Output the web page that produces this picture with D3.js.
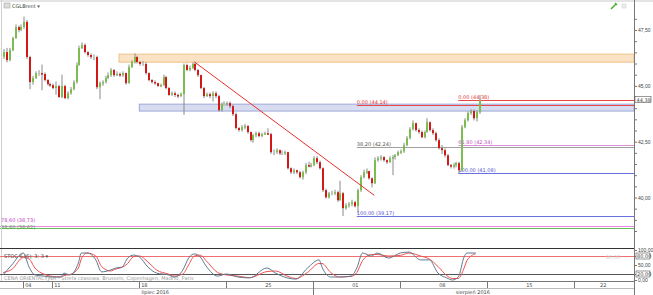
<!DOCTYPE html>
<html>
<head>
<meta charset="utf-8">
<title>CGLBrent</title>
<script src="https://cdn.jsdelivr.net/npm/d3@7/dist/d3.min.js"></script>
<style>
  body { margin: 0; background: #fff; }
  svg { display: block; font-family: "DejaVu Sans", sans-serif; }
  .lbl { font-size: 5px; fill: #444; }
</style>
</head>
<body>
<script>
// ---- data (4h candles, CGLBrent, lipiec - sierpień 2016) ----
var closes = [46.51,46.15,46.60,47.14,47.63,47.50,47.63,47.86,46.29,45.17,
  45.35,45.57,45.57,45.53,45.26,45.08,45.03,44.90,44.99,44.50,
  44.99,44.45,44.67,44.85,45.17,45.93,46.69,46.83,46.51,46.38,
  46.29,46.29,44.94,45.12,45.17,45.35,45.48,45.71,45.48,45.53,
  45.48,45.57,45.12,45.84,46.07,46.29,46.07,45.98,45.98,45.57,
  45.26,45.17,45.12,44.99,45.03,45.39,44.90,44.59,44.67,44.59,
  44.54,44.63,45.93,45.71,45.80,45.98,45.71,45.48,44.90,44.54,
  44.63,44.54,44.67,44.54,43.91,44.18,44.18,44.23,44.09,43.73,
  43.11,43.02,43.15,43.20,42.93,42.57,42.79,42.88,42.75,42.84,
  42.88,42.84,42.03,42.03,42.12,41.98,41.98,42.03,41.31,41.13,
  41.22,41.13,40.91,41.13,41.45,41.40,41.45,41.76,41.58,41.31,
  40.33,40.01,40.19,40.19,40.24,39.88,40.19,39.52,39.65,39.70,
  39.79,39.61,40.33,40.91,41.13,41.18,40.86,40.64,41.67,41.76,
  41.81,41.67,41.58,41.76,41.81,41.89,42.03,42.07,42.34,42.66,
  43.06,43.33,43.02,42.93,42.70,42.93,43.37,43.02,42.88,42.57,
  42.21,42.12,41.89,41.45,41.40,41.45,41.54,41.22,43.15,43.46,
  43.78,43.87,43.55,43.82,44.36];
var highs = [46.65,46.70,46.70,47.20,47.75,47.70,47.75,48.10,47.95,46.35,
  45.45,45.65,45.70,45.95,45.60,45.30,45.15,45.10,45.20,45.05,
  45.50,45.05,44.75,44.95,45.25,46.05,46.80,46.95,46.90,46.55,
  46.45,46.40,46.35,45.20,45.25,45.45,45.60,45.80,45.75,45.65,
  45.60,45.65,45.60,45.95,46.15,46.45,46.35,46.10,46.10,46.05,
  45.60,45.30,45.25,45.15,45.10,45.50,45.45,44.95,44.75,44.75,
  44.65,44.70,46.00,46.00,45.90,46.05,46.05,45.75,45.50,44.95,
  44.70,44.70,44.75,44.75,44.60,44.25,44.30,44.30,44.30,44.15,
  43.80,43.15,43.25,43.30,43.25,42.95,42.85,42.95,42.95,42.90,
  42.95,43.10,42.90,42.15,42.20,42.15,42.10,42.10,42.05,41.35,
  41.30,41.25,41.20,41.20,41.55,41.60,41.55,41.85,41.85,41.65,
  41.35,40.40,40.25,40.30,40.35,40.30,40.75,40.25,39.75,39.80,
  39.90,39.85,40.40,41.00,41.25,41.30,41.20,40.90,41.80,41.85,
  41.90,41.85,41.70,41.85,41.90,41.95,42.10,42.15,42.45,42.75,
  43.15,43.45,43.35,43.10,43.00,43.00,43.55,43.40,43.10,42.95,
  42.65,42.35,42.20,41.95,41.50,41.55,41.60,41.60,43.25,43.55,
  43.85,43.95,43.95,43.90,44.59];
var lows = [46.20,46.05,46.10,46.55,47.10,47.40,47.45,47.55,46.20,44.85,
  45.05,45.30,45.45,44.80,45.20,45.00,44.95,44.85,44.60,44.45,
  44.45,44.40,44.40,44.60,44.80,45.10,45.90,46.65,46.45,46.30,
  46.20,46.15,44.85,44.40,45.00,45.10,45.30,45.40,45.40,45.45,
  45.40,45.40,45.05,45.10,45.80,46.00,46.00,45.90,45.90,45.50,
  45.20,45.10,45.05,44.95,44.95,45.00,44.85,44.55,44.55,44.50,
  44.45,44.50,43.70,45.65,45.65,45.75,45.65,45.40,44.85,44.45,
  44.50,44.45,44.30,44.45,43.85,43.85,44.10,44.10,44.00,43.65,
  43.05,42.95,42.95,43.05,42.85,42.50,42.45,42.70,42.70,42.70,
  42.80,42.80,41.95,41.90,41.95,41.90,41.90,41.90,41.25,41.05,
  41.05,41.05,40.85,40.80,41.05,41.35,41.35,41.40,41.50,41.25,
  40.25,39.95,39.95,40.10,40.10,39.80,39.85,39.17,39.45,39.55,
  39.60,39.55,39.30,40.25,40.85,41.05,40.80,40.45,40.60,41.60,
  41.65,41.60,41.50,41.55,41.00,41.70,41.85,41.95,42.00,42.30,
  42.60,43.00,42.95,42.85,42.65,42.65,42.90,42.95,42.80,42.50,
  42.15,41.95,41.80,41.40,41.30,41.30,41.35,41.08,41.15,43.10,
  43.40,43.70,43.45,43.40,43.75];
var firstOpen = 46.30;

// STOC 6 (6); 3; 3
var stochIdx = [0,3,7,9,11,14,17,20,21,23,26,27,29,32,34,37,39,41,43,45,
  47,50,53,57,59,62,64,66,68,70,74,77,81,85,91,94,98,101,105,109,
  110,113,116,120,122,124,127,129,133,137,140,144,147,150,153,155,157,159,160,163];
var stochK = [17,50,90,43,17,13,10,10,23,17,57,90,90,67,27,33,40,43,73,83,
  77,43,23,17,10,33,73,87,77,47,13,20,10,7,40,23,7,3,40,67,
  43,10,10,13,40,90,80,90,73,90,93,67,67,23,7,0,10,77,90,90];
var stochD = [25,35,75,70,40,20,12,10,15,18,40,70,90,80,45,30,37,42,55,78,
  80,60,33,20,13,20,50,80,83,65,25,17,13,8,28,30,13,5,25,55,
  55,25,10,12,25,65,85,85,80,82,90,80,70,45,15,5,5,40,65,88];

var priceTicks = [40, 42.5, 45, 47.5];
var stochTicks = [100, 80, 50, 20, 0];
// week labels: first three sit right of their tick, later ones centred in the week
var weekLabels = ["04", "11", "18", "25", "01", "08", "15", "22"];
var weekLabelIdx = [7.3, 17.3, 47.3, 91.5, 121.5, 151.5, 181.5, 207];
var weekLabelLeft = [true, true, true, false, false, false, false, false];
var weekTickIdx = [7, 17, 47, 77, 107, 137, 167, 197];
var monthLabels = ["lipiec 2016", "sierpień 2016"];
var monthLabelIdx = [52.5, 162];
var monthTickIdx = [107];

// zones [from index, low, high]
var orangeZone = [40, 46.06, 46.42];
var blueZone = [47, 43.87, 44.18];
var trendLine = [[66, 46.07], [128, 40.10]];
// fib retracements: start index, levels, prices
var fib1Start = 122, fib1Levels = ["0,00", "38,20", "100,00"], fib1Prices = [44.14, 42.24, 39.17];
var fib2Start = 157, fib2Levels = ["0,00", "61,80", "100,00"], fib2Prices = [44.38, 42.34, 41.08];
var extLevels = ["78,60", "88,60"], extPrices = [38.73, 38.62];
var lastPrice = 44.38;

// ---- layout ----
var width = 653, height = 295;
var plotR = 634, mainBot = 248, stochBot = 281;

var x = d3.scaleLinear().domain([0, 164]).range([3, 478.6]);
var y = d3.scaleLinear().domain([40, 47.5]).range([197.5, 30]);
var ys = d3.scaleLinear().domain([0, 100]).range([280, 250]);
var fmt = function(v){ return d3.format(".2f")(v).replace(".", ","); };

var svg = d3.select("body").append("svg")
    .attr("width", width).attr("height", height);

svg.append("rect").attr("width", width).attr("height", height).attr("fill", "#fff");

svg.append("clipPath").attr("id", "main").append("rect")
    .attr("x", 0).attr("y", 0).attr("width", plotR).attr("height", mainBot);
var g = svg.append("g").attr("clip-path", "url(#main)");

// zones
g.append("rect")
    .attr("x", x(orangeZone[0])).attr("y", y(orangeZone[2]))
    .attr("width", plotR - x(orangeZone[0])).attr("height", y(orangeZone[1]) - y(orangeZone[2]))
    .attr("fill", "#fae3c4").attr("stroke", "#f0c088").attr("stroke-width", 1);
g.append("rect")
    .attr("x", x(blueZone[0])).attr("y", y(blueZone[2]))
    .attr("width", plotR - x(blueZone[0])).attr("height", y(blueZone[1]) - y(blueZone[2]))
    .attr("fill", "#d7dcf0").attr("stroke", "#9ea8d8").attr("stroke-width", 1);

// extension lines (full width)
var extColors = ["#e58ae0", "#6cc05a"];
extPrices.forEach(function(p, i){
    g.append("line").attr("x1", 0).attr("x2", plotR)
        .attr("y1", Math.round(y(p)) + 0.5).attr("y2", Math.round(y(p)) + 0.5)
        .attr("stroke", extColors[i]).attr("stroke-width", 1);
});
g.append("text").attr("class", "lbl").attr("x", 1).attr("y", y(extPrices[0]) - 4)
    .style("fill", "#c040c0")
    .text(extLevels[0] + " (" + fmt(extPrices[0]) + ")");
g.append("text").attr("class", "lbl").attr("x", 1).attr("y", y(extPrices[1]) + 0.5)
    .style("fill", "#40a040")
    .text(extLevels[1] + " (" + fmt(extPrices[1]) + ")");

// fib lines
var fibColors = ["#e84848", "#a0a0a0", "#6a70e0"];
function drawFib(start, levels, prices, colors, lblColors){
    prices.forEach(function(p, i){
        var yy = Math.round(y(p)) + 0.5;
        g.append("line").attr("x1", x(start)).attr("x2", plotR)
            .attr("y1", yy).attr("y2", yy)
            .attr("stroke", colors[i]).attr("stroke-width", 1);
        g.append("text").attr("class", "lbl").attr("x", x(start)).attr("y", yy - 2)
            .style("fill", lblColors[i])
            .text(levels[i] + " (" + fmt(p) + ")");
    });
}
drawFib(fib1Start, fib1Levels, fib1Prices, fibColors, ["#e03030", "#555", "#5050d0"]);
drawFib(fib2Start, fib2Levels, fib2Prices, ["#e84848", "#d890d8", "#6a70e0"], ["#e03030", "#c050c0", "#5050d0"]);

// candles
var candles = closes.map(function(c, i){
    return { i: i, o: i ? closes[i - 1] : firstOpen, c: c, h: highs[i], l: lows[i] };
});
var cg = g.selectAll("g.candle").data(candles).enter().append("g").attr("class", "candle");
cg.append("line")
    .attr("x1", function(d){ return Math.round(x(d.i)) + 1; })
    .attr("x2", function(d){ return Math.round(x(d.i)) + 1; })
    .attr("y1", function(d){ return y(d.h); })
    .attr("y2", function(d){ return y(d.l); })
    .attr("stroke", "#8a8a8a").attr("stroke-width", 1);
cg.append("rect")
    .attr("x", function(d){ return Math.round(x(d.i)); })
    .attr("y", function(d){ return y(Math.max(d.o, d.c)); })
    .attr("width", 2)
    .attr("height", function(d){ return Math.max(1.5, Math.abs(y(d.o) - y(d.c))); })
    .attr("fill", function(d){
        if (Math.abs(d.c - d.o) < 0.02) return "#c4c4c4";
        return d.c > d.o ? "#7cbd50" : "#d41818";
    });

// trend line
g.append("line")
    .attr("x1", x(trendLine[0][0])).attr("y1", y(trendLine[0][1]))
    .attr("x2", x(trendLine[1][0])).attr("y2", y(trendLine[1][1]))
    .attr("stroke", "#e8302a").attr("stroke-width", 1);

// header
svg.append("rect").attr("x", 0).attr("y", 0).attr("width", width).attr("height", 2).attr("fill", "#e4e4e4");
svg.append("rect").attr("x", 4).attr("y", 3).attr("width", 6).attr("height", 5)
    .attr("fill", "#ddd").attr("stroke", "#999").attr("stroke-width", 0.5);
svg.append("text").attr("class", "lbl").attr("x", 12).attr("y", 8).text("CGLBrent  ▾");
svg.append("path").attr("d", "M611,9 L616,4 M615,3 l2,2").attr("stroke", "#4caf30").attr("stroke-width", 1.5);
svg.append("rect").attr("x", 622).attr("y", 4).attr("width", 4).attr("height", 4)
    .attr("fill", "#eee").attr("stroke", "#ccc").attr("stroke-width", 0.5);

// left border
svg.append("line").attr("x1", 1.5).attr("x2", 1.5).attr("y1", 0).attr("y2", stochBot)
    .attr("stroke", "#cfcfcf");

// right price axis
svg.append("line").attr("x1", plotR + 0.5).attr("x2", plotR + 0.5).attr("y1", 0).attr("y2", height)
    .attr("stroke", "#777");
var yAxis = d3.axisRight(y).tickValues(d3.range(38.5, 48.01, 0.5)).tickSize(3)
    .tickFormat(function(v){ return priceTicks.indexOf(v) >= 0 ? fmt(v) : ""; });
var ya = svg.append("g").attr("transform", "translate(" + plotR + ",0)").call(yAxis);
ya.select(".domain").remove();
ya.selectAll("line").attr("stroke", "#777");
ya.selectAll("text").attr("class", "lbl").attr("x", 4);
ya.selectAll(".tick").filter(function(v){ return y(v) > mainBot - 2; }).remove();

svg.append("rect").attr("x", plotR + 1).attr("y", y(lastPrice) - 3).attr("width", 16).attr("height", 6)
    .attr("fill", "#fff").attr("stroke", "#555").attr("stroke-width", 0.6);
svg.append("text").attr("class", "lbl").attr("x", plotR + 2.5).attr("y", y(lastPrice) + 2)
    .text(fmt(lastPrice));

// stochastic panel
svg.append("line").attr("x1", 0).attr("x2", plotR).attr("y1", mainBot + 0.5).attr("y2", mainBot + 0.5)
    .attr("stroke", "#333").attr("stroke-width", 1);
svg.append("line").attr("x1", 0).attr("x2", plotR).attr("y1", Math.round(ys(80)) + 0.5).attr("y2", Math.round(ys(80)) + 0.5)
    .attr("stroke", "#f07070");
svg.append("line").attr("x1", 0).attr("x2", plotR).attr("y1", Math.round(ys(20)) + 0.5).attr("y2", Math.round(ys(20)) + 0.5)
    .attr("stroke", "#555");
var sline = d3.line().curve(d3.curveMonotoneX)
    .x(function(d){ return x(d[0]); })
    .y(function(d){ return ys(d[1]); });
svg.append("path").datum(stochIdx.map(function(v, i){ return [v, stochD[i]]; }))
    .attr("d", sline).attr("fill", "none").attr("stroke", "#f05050").attr("stroke-width", 1);
svg.append("path").datum(stochIdx.map(function(v, i){ return [v, stochK[i]]; }))
    .attr("d", sline).attr("fill", "none").attr("stroke", "#607890").attr("stroke-width", 1);
svg.append("text").attr("class", "lbl").attr("x", 4).attr("y", 258).text("STOC 6 (6); 3; 3  ▾");
svg.append("text").attr("class", "lbl").attr("x", 606).attr("y", 259).style("fill", "#ccc").text("80,00");

var sAxis = d3.axisRight(ys).tickValues(stochTicks).tickSize(3).tickFormat(fmt);
var sa = svg.append("g").attr("transform", "translate(" + plotR + ",0)").call(sAxis);
sa.select(".domain").remove();
sa.selectAll("line").attr("stroke", "#777");
sa.selectAll("text").attr("class", "lbl").attr("x", 4);
[80, 20].forEach(function(v){
    svg.append("rect").attr("x", plotR + 2).attr("y", ys(v) - 3).attr("width", 14).attr("height", 6)
        .attr("fill", "#fff").attr("stroke", "#555").attr("stroke-width", 0.6);
    svg.append("text").attr("class", "lbl").attr("x", plotR + 3).attr("y", ys(v) + 2).text(fmt(v));
});

svg.append("text").attr("class", "lbl").attr("x", 4).attr("y", 280).style("fill", "#999")
    .text("CENA ORIENTACYJNA - Strefa czasowa: Brussels, Copenhagen, Madrid, Paris");

// time axis
svg.append("line").attr("x1", 0).attr("x2", plotR).attr("y1", stochBot + 0.5).attr("y2", stochBot + 0.5)
    .attr("stroke", "#777");
svg.append("line").attr("x1", 0).attr("x2", plotR).attr("y1", 288.5).attr("y2", 288.5)
    .attr("stroke", "#bbb");
svg.selectAll("line.wtick").data(weekTickIdx).enter().append("line")
    .attr("x1", function(d){ return Math.round(x(d)) + 0.5; })
    .attr("x2", function(d){ return Math.round(x(d)) + 0.5; })
    .attr("y1", stochBot).attr("y2", 288).attr("stroke", "#777");
svg.selectAll("text.wl").data(weekLabels).enter().append("text")
    .attr("class", "lbl")
    .attr("text-anchor", function(d, i){ return weekLabelLeft[i] ? "start" : "middle"; })
    .attr("x", function(d, i){ return x(weekLabelIdx[i]) + (weekLabelLeft[i] ? 1 : 0); })
    .attr("y", 287).text(function(d){ return d; });
svg.selectAll("line.mtick").data(monthTickIdx).enter().append("line")
    .attr("x1", function(d){ return Math.round(x(d)) + 0.5; })
    .attr("x2", function(d){ return Math.round(x(d)) + 0.5; })
    .attr("y1", 288).attr("y2", height).attr("stroke", "#777");
svg.selectAll("text.ml").data(monthLabels).enter().append("text")
    .attr("class", "lbl").attr("text-anchor", "middle")
    .attr("x", function(d, i){ return x(monthLabelIdx[i]); })
    .attr("y", 294).text(function(d){ return d; });
</script>
</body>
</html>
